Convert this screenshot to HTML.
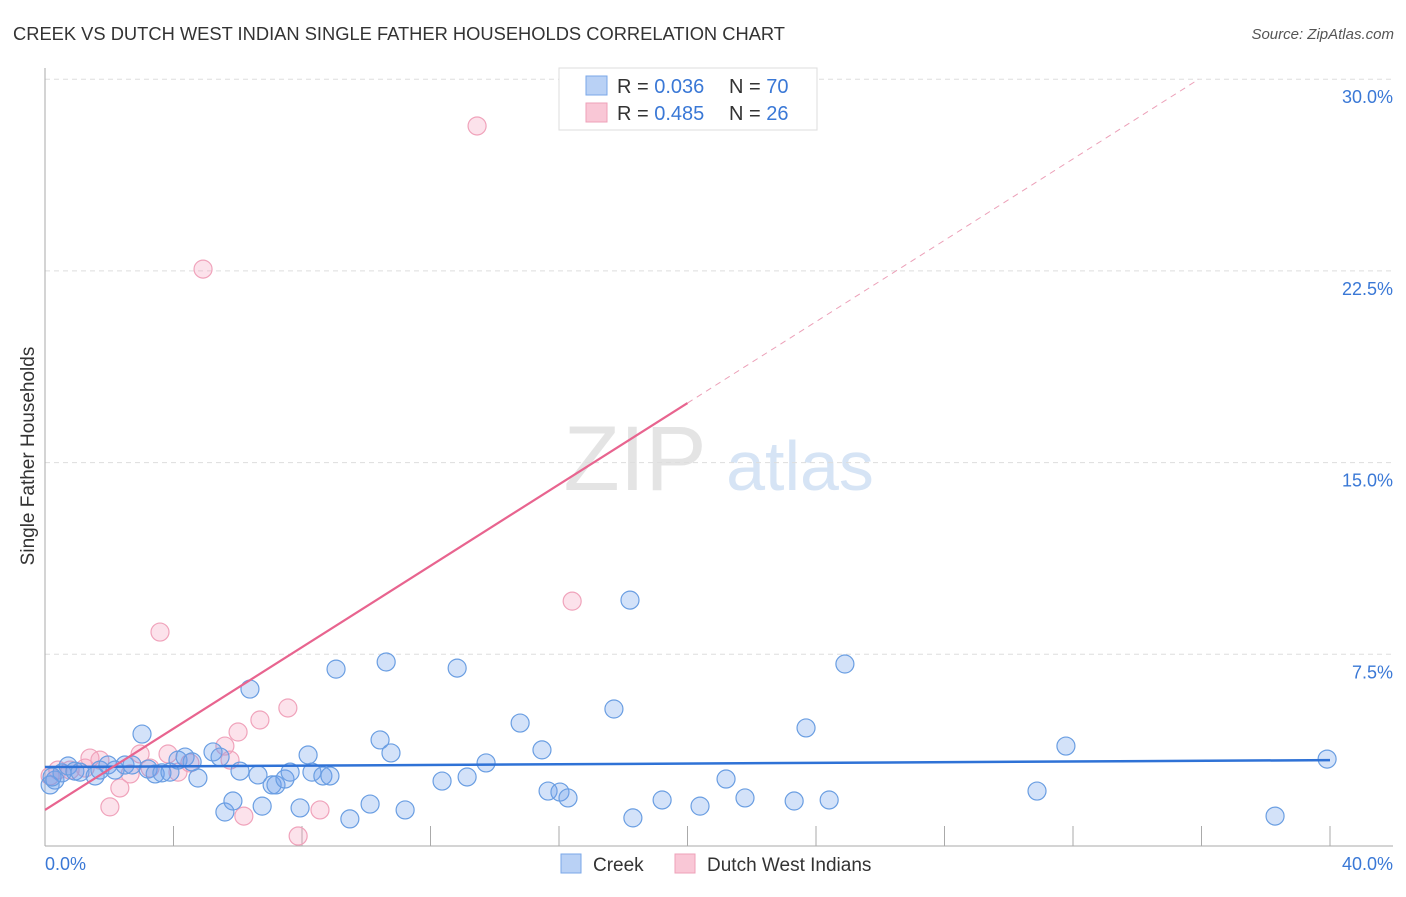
<!DOCTYPE html>
<html><head><meta charset="utf-8">
<style>
body{margin:0;background:#fff;font-family:"Liberation Sans",sans-serif;}
svg text{font-family:"Liberation Sans",sans-serif;}
</style></head>
<body>
<svg width="1406" height="892">
<text x="13" y="40" font-size="18" fill="#333" textLength="772" lengthAdjust="spacingAndGlyphs">CREEK VS DUTCH WEST INDIAN SINGLE FATHER HOUSEHOLDS CORRELATION CHART</text>
<text x="1394" y="39" font-size="15" fill="#555" font-style="italic" text-anchor="end">Source: ZipAtlas.com</text>
<text transform="translate(34,456) rotate(-90)" font-size="19" fill="#333" text-anchor="middle">Single Father Households</text>
<g>
<text x="635" y="490" font-size="92" fill="#e4e4e4" font-family="Liberation Serif" text-anchor="middle">ZIP</text>
<text x="800" y="490" font-size="70" fill="#d6e4f5" text-anchor="middle">atlas</text>
</g>
<g id="grid"></g>
<g id="axes"></g>
<g id="marks"></g>
<g>
<rect x="559" y="68" width="258" height="62" fill="#fff" stroke="#ddd"/>
<rect x="586" y="76" width="21" height="19" fill="#b9d1f5" stroke="#7aa7e8"/>
<rect x="586" y="103" width="21" height="19" fill="#f9c7d6" stroke="#eea0b8"/>
<text x="617" y="93" font-size="20" fill="#333">R = <tspan fill="#3a78d6">0.036</tspan></text>
<text x="729" y="93" font-size="20" fill="#333">N = <tspan fill="#3a78d6">70</tspan></text>
<text x="617" y="120" font-size="20" fill="#333">R = <tspan fill="#3a78d6">0.485</tspan></text>
<text x="729" y="120" font-size="20" fill="#333">N = <tspan fill="#3a78d6">26</tspan></text>
</g>
<g>
<rect x="561" y="854" width="20" height="19" fill="#b9d1f5" stroke="#7aa7e8"/>
<text x="593" y="871" font-size="19" fill="#333">Creek</text>
<rect x="675" y="854" width="20" height="19" fill="#f9c7d6" stroke="#eea0b8"/>
<text x="707" y="871" font-size="19" fill="#333">Dutch West Indians</text>
</g>
</svg>
<script>
const yTicks=[7.5,15,22.5,30];
const yTickLabels=["7.5%","15.0%","22.5%","30.0%"];
const xTicks=[0,4,8,12,16,20,24,28,32,36,40];
const creekX=[0.16,0.31,0.53,0.72,0.93,1.09,1.56,1.71,1.96,2.18,2.49,2.71,3.02,3.21,3.43,3.64,3.89,4.14,4.36,4.58,4.76,5.23,5.45,5.60,5.85,6.07,6.38,6.63,6.76,7.07,7.19,7.47,7.63,7.94,8.19,8.31,8.65,8.87,9.06,9.49,10.12,10.43,10.62,10.77,11.21,12.36,12.83,13.14,13.73,14.79,15.47,15.66,16.03,16.28,17.71,18.21,18.30,19.21,20.39,21.20,21.79,23.32,23.69,24.41,24.90,30.88,31.78,38.29,39.91,0.22];
const creekY=[2.39,2.58,2.86,3.13,2.93,2.89,2.74,2.97,3.17,2.97,3.17,3.17,4.38,3.01,2.82,2.86,2.89,3.36,3.48,3.29,2.66,3.68,3.48,1.33,1.76,2.93,6.14,2.78,1.56,2.39,2.39,2.62,2.89,1.49,3.56,2.89,2.74,2.74,6.92,1.06,1.64,4.15,7.20,3.64,1.41,2.54,6.96,2.70,3.25,4.81,3.76,2.15,2.11,1.88,5.36,9.62,1.10,1.80,1.56,2.62,1.88,1.76,4.62,1.80,7.12,2.15,3.91,1.17,3.40,2.70];
const dutchX=[0.16,0.40,0.78,1.25,1.40,1.71,2.02,2.33,2.65,2.96,3.27,3.58,3.83,4.14,4.51,4.92,5.60,5.76,6.01,6.19,6.69,7.56,7.88,8.56,13.45,16.41];
const dutchY=[2.74,2.97,2.97,3.05,3.44,3.36,1.53,2.27,2.82,3.60,3.05,8.37,3.60,2.89,3.25,22.57,3.91,3.36,4.46,1.17,4.93,5.40,0.39,1.41,28.17,9.58];
const creekTrend=[3.09,3.36];
const dutchTrend=[1.41,0.796];
const NS="http://www.w3.org/2000/svg";
const xs=v=>45+v/40*1285;
const ys=v=>846-v/7.5*191.7;
function mk(tag,attrs,parent){const e=document.createElementNS(NS,tag);for(const k in attrs)e.setAttribute(k,attrs[k]);document.getElementById(parent).appendChild(e);return e;}
yTicks.forEach((t,i)=>{
 const g=mk('line',{x1:45,x2:1393,y1:ys(t),y2:ys(t),stroke:'#ddd','stroke-dasharray':'5,4'},'grid');
 
 
 const l=mk('text',{x:1393,y:ys(t)+24,'font-size':18,fill:'#3a78d6','text-anchor':'end'},'grid');
 l.textContent=yTickLabels[i];
 
 
});
const ya=mk('line',{x1:45,x2:45,y1:68,y2:846,stroke:'#aaa'},'axes');


const xa=mk('line',{x1:45,x2:1393,y1:846,y2:846,stroke:'#aaa'},'axes');


xTicks.forEach(t=>{
 const tk=mk('line',{x1:xs(t),x2:xs(t),y1:826,y2:846,stroke:'#aaa'},'axes');
 
 
});
const xl0=mk('text',{x:45,y:870,'font-size':18,fill:'#3a78d6'},'axes');xl0.textContent='0.0%';


const xl1=mk('text',{x:1393,y:870,'font-size':18,fill:'#3a78d6','text-anchor':'end'},'axes');xl1.textContent='40.0%';


dutchX.forEach((x,i)=>{
 const c=mk('circle',{cx:xs(x),cy:ys(dutchY[i]),r:9,fill:'rgba(245,160,190,0.3)',stroke:'#f0a3bb','stroke-width':1.2},'marks');
 
 
});
creekX.forEach((x,i)=>{
 const c=mk('circle',{cx:xs(x),cy:ys(creekY[i]),r:9,fill:'rgba(110,160,235,0.3)',stroke:'#6a9ee2','stroke-width':1.2},'marks');
 
 
});
const ct=mk('line',{x1:xs(0),y1:ys(creekTrend[0]),x2:xs(40),y2:ys(creekTrend[1]),stroke:'#2f72d6','stroke-width':2.5},'marks');


const xEnd=(30-dutchTrend[0])/dutchTrend[1];
const dt=mk('line',{x1:xs(0),y1:ys(dutchTrend[0]),x2:xs(20),y2:ys(dutchTrend[0]+dutchTrend[1]*20),stroke:'#e8648f','stroke-width':2.2},'marks');


const dd=mk('line',{x1:xs(20),y1:ys(dutchTrend[0]+dutchTrend[1]*20),x2:xs(xEnd),y2:ys(30),stroke:'#eca0b8','stroke-width':1,'stroke-dasharray':'6,5'},'marks');


</script>
</body></html>
